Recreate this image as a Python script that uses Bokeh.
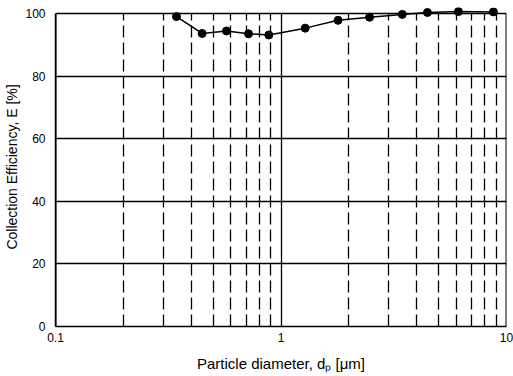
from bokeh.plotting import figure
from bokeh.models import Range1d, FixedTicker
from bokeh.embed import file_html
from bokeh.resources import INLINE

# data
diameter = [0.344, 0.447, 0.573, 0.718, 0.883, 1.28, 1.79, 2.47, 3.45, 4.46, 6.12, 8.75]
efficiency = [99.1, 93.7, 94.5, 93.6, 93.2, 95.4, 97.9, 98.9, 99.8, 100.4, 100.7, 100.6]

x_major = [0.1, 1, 10]
x_minor = [0.2, 0.3, 0.4, 0.5, 0.6, 0.7, 0.8, 0.9, 2, 3, 4, 5, 6, 7, 8, 9]
x_labels = {0.1: "0.1", 1: "1", 10: "10"}
y_ticks = [0, 20, 40, 60, 80, 100]

FONT = "Liberation Sans"
x_range = Range1d(0.1, 10)
y_top = 100

p = figure(width=513, height=376, x_axis_type="log",
           x_range=x_range, y_range=Range1d(0, 102),
           output_backend="svg", toolbar_location=None,
           min_border_left=55, min_border_right=7,
           min_border_top=7, min_border_bottom=50)
p.outline_line_color = None
p.background_fill_color = "white"
p.border_fill_color = "white"

# x axis
p.xaxis.ticker = FixedTicker(ticks=x_major, minor_ticks=x_minor)
p.xaxis.major_label_overrides = x_labels
p.xaxis.major_tick_line_color = None
p.xaxis.minor_tick_line_color = None
p.xaxis.axis_line_width = 1.5
p.xaxis.axis_line_color = "black"
p.xaxis.major_label_text_font = FONT
p.xaxis.major_label_text_font_size = "12px"
p.xaxis.major_label_text_color = "black"
p.xaxis.major_label_standoff = 0
p.xaxis.axis_label = "Particle diameter, d\u209a [\u03bcm]"
p.xaxis.axis_label_text_font = FONT
p.xaxis.axis_label_text_font_size = "15px"
p.xaxis.axis_label_text_font_style = "normal"
p.xaxis.axis_label_text_color = "black"
p.xaxis.axis_label_standoff = 10

# y axis
p.yaxis.ticker = FixedTicker(ticks=y_ticks)
p.yaxis.bounds = (0, 100)
p.yaxis.major_tick_line_color = None
p.yaxis.minor_tick_line_color = None
p.yaxis.axis_line_width = 1.5
p.yaxis.axis_line_color = "black"
p.yaxis.major_label_text_font = FONT
p.yaxis.major_label_text_font_size = "12px"
p.yaxis.major_label_text_color = "black"
p.yaxis.major_label_standoff = 4
p.yaxis.axis_label = "Collection Efficiency, E [%]"
p.yaxis.axis_label_text_font = FONT
p.yaxis.axis_label_text_font_size = "14px"
p.yaxis.axis_label_text_font_style = "normal"
p.yaxis.axis_label_text_color = "black"
p.yaxis.axis_label_standoff = 2

# grids
p.xgrid.grid_line_color = "black"
p.xgrid.grid_line_width = 1.3
p.xgrid.minor_grid_line_color = "black"
p.xgrid.minor_grid_line_width = 1.3
p.xgrid.minor_grid_line_dash = "12 5"
p.xgrid.cross_bounds = (0, 100)
p.ygrid.grid_line_color = "black"
p.ygrid.grid_line_width = 1.5

# frame borders (left / right edges of the plotting area)
p.segment(x0=[x_range.start, x_range.end], y0=[0, 0],
          x1=[x_range.start, x_range.end], y1=[y_top, y_top],
          line_color="black", line_width=2)

# data
p.line(diameter, efficiency, line_color="black", line_width=1.5)
p.scatter(diameter, efficiency, size=8, fill_color="black", line_color="black")

open("out.html", "w").write(file_html(p, INLINE))
